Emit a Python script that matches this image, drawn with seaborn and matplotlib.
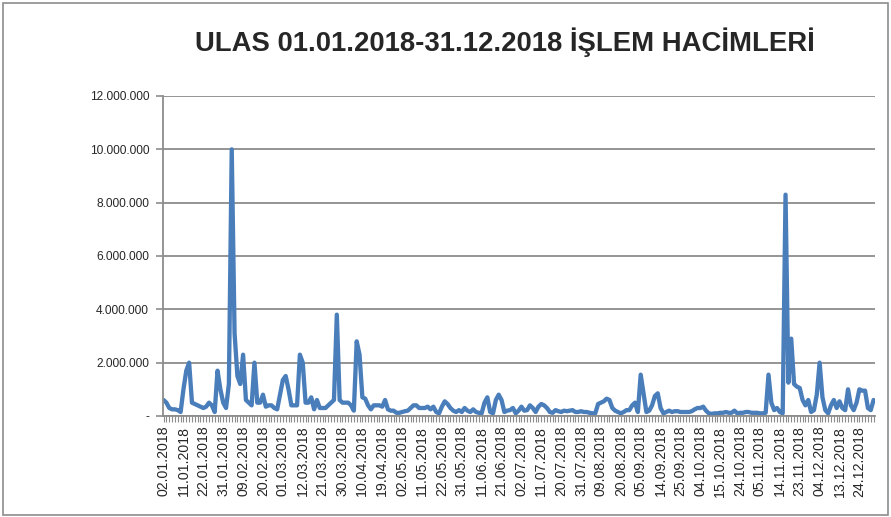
import matplotlib
matplotlib.use("Agg")
import matplotlib.pyplot as plt
import matplotlib.patches as patches
from matplotlib.ticker import FuncFormatter, MultipleLocator
import seaborn as sns
import pandas as pd
import numpy as np

# ---- data (daily trading volume, millions) ----
vol_part1 = [0.6, 0.5, 0.3, 0.25, 0.25, 0.22, 0.15, 1.0, 1.7, 2.0,
             0.5, 0.45, 0.4, 0.35, 0.3, 0.35, 0.5, 0.4, 0.15, 1.7,
             1.0, 0.5, 0.3, 1.2, 10.0, 3.1, 1.5, 1.2, 2.3, 0.6,
             0.5, 0.4, 2.0, 0.5, 0.5, 0.8, 0.35, 0.4, 0.4, 0.3,
             0.25, 0.8, 1.35, 1.5, 1.0, 0.4, 0.4, 0.4, 2.3, 2.0,
             0.5, 0.5, 0.7, 0.25, 0.6, 0.3, 0.3, 0.3, 0.4, 0.5,
             0.6, 3.8, 0.6]
vol_part2 = [0.5, 0.5, 0.5, 0.4, 0.2, 2.8, 2.3,
             0.7, 0.65, 0.4, 0.25, 0.4, 0.4, 0.4, 0.35, 0.6, 0.25,
             0.2, 0.2, 0.12, 0.12, 0.15, 0.18, 0.2, 0.3, 0.4, 0.4,
             0.3, 0.3, 0.3, 0.35, 0.25, 0.35, 0.15, 0.1, 0.35, 0.55,
             0.45, 0.3, 0.2, 0.15, 0.22, 0.15, 0.3, 0.2, 0.15, 0.25,
             0.15, 0.12, 0.1, 0.5, 0.7, 0.15, 0.1, 0.6, 0.8, 0.6,
             0.15, 0.2, 0.22, 0.3, 0.1]
vol_part3 = [0.2, 0.35, 0.2, 0.22, 0.4,
             0.3, 0.15, 0.35, 0.45, 0.4, 0.3, 0.15, 0.12, 0.22, 0.18,
             0.15, 0.2, 0.18, 0.2, 0.22, 0.15, 0.15, 0.18, 0.15, 0.15,
             0.12, 0.1, 0.1, 0.45, 0.5, 0.55, 0.65, 0.6, 0.3, 0.2,
             0.15, 0.1, 0.15, 0.22, 0.22, 0.4, 0.5, 0.15, 1.55, 0.85,
             0.15, 0.2, 0.4, 0.75, 0.85, 0.3, 0.1, 0.15, 0.2, 0.15,
             0.18, 0.18, 0.15, 0.15, 0.15, 0.15, 0.18, 0.25]
vol_part4 = [0.3, 0.3,
             0.35, 0.2, 0.1, 0.08, 0.1, 0.1, 0.12, 0.12, 0.15, 0.12,
             0.12, 0.2, 0.1, 0.12, 0.12, 0.15, 0.15, 0.12, 0.12, 0.12,
             0.1, 0.1, 0.12, 1.55, 0.5, 0.22, 0.3, 0.15, 0.1, 8.3,
             1.25, 2.9, 1.2, 1.1, 1.05, 0.6, 0.4, 0.6, 0.15, 0.22,
             0.8, 2.0, 0.7, 0.22, 0.1, 0.4, 0.6, 0.3, 0.55, 0.3,
             0.22, 1.0, 0.4, 0.22, 0.5, 1.0, 0.95, 0.95, 0.3, 0.22,
             0.6]

tick_labels = ["02.01.2018", "11.01.2018", "22.01.2018", "31.01.2018", "09.02.2018",
               "20.02.2018", "01.03.2018", "12.03.2018", "21.03.2018", "30.03.2018",
               "10.04.2018", "19.04.2018", "02.05.2018", "11.05.2018", "22.05.2018",
               "31.05.2018", "11.06.2018", "21.06.2018", "02.07.2018", "11.07.2018",
               "20.07.2018", "31.07.2018", "09.08.2018", "20.08.2018", "05.09.2018",
               "14.09.2018", "25.09.2018", "04.10.2018", "15.10.2018", "24.10.2018",
               "05.11.2018", "14.11.2018", "23.11.2018", "04.12.2018", "13.12.2018",
               "24.12.2018"]
tick_step = 7
y_ticks = [0, 2000000, 4000000, 6000000, 8000000, 10000000, 12000000]
title = "ULAS 01.01.2018-31.12.2018 İŞLEM HACİMLERİ"

volume = np.array(vol_part1 + vol_part2 + vol_part3 + vol_part4) * 1e6
df = pd.DataFrame({"idx": np.arange(len(volume)), "volume": volume})

# ---- style ----
sns.set_style("white")
plt.rcParams["font.family"] = ["Liberation Sans", "DejaVu Sans"]

W, H = 891, 517
fig = plt.figure(figsize=(W / 100, H / 100), dpi=100)
ax = fig.add_axes([163 / W, (H - 416) / H, (875 - 163) / W, (416 - 96) / H])

sns.lineplot(data=df, x="idx", y="volume", ax=ax, color="#4A7EBB", linewidth=3.1,
             solid_joinstyle="round", solid_capstyle="round")

ax.set_xlim(-0.2, len(volume) - 0.5)
ax.set_ylim(0, 12000000)
ax.set_yticks(y_ticks)
ax.yaxis.set_major_formatter(FuncFormatter(
    lambda v, p: "-" if v == 0 else f"{int(v):,}".replace(",", ".")))
ax.set_xticks(np.arange(len(tick_labels)) * tick_step)
ax.set_xticklabels(tick_labels, rotation=90)
ax.xaxis.set_minor_locator(MultipleLocator(1))

grid_col = "#8C8C8C"
ax.grid(axis="y", color=grid_col, linewidth=1.3)
ax.set_axisbelow(True)
for s in ["top", "right"]:
    ax.spines[s].set_visible(False)
for s in ["left", "bottom"]:
    ax.spines[s].set_color(grid_col)
    ax.spines[s].set_linewidth(1.3)
ax.tick_params(axis="y", which="major", length=5, color=grid_col, width=1.2,
               labelsize=8.6, pad=5, left=True)
ax.tick_params(axis="x", which="major", length=4, color=grid_col, width=0.8,
               labelsize=10.2, pad=3, bottom=True)
ax.tick_params(axis="x", which="minor", length=4, color=grid_col, width=0.8, bottom=True)
ax.set_xlabel("")
ax.set_ylabel("")

t = fig.text(505 / W, 1 - 42 / H, title, ha="center", va="center",
             fontsize=20, fontweight="bold", family=["Liberation Sans", "DejaVu Sans"])
fig.canvas.draw()
w = t.get_window_extent(fig.canvas.get_renderer()).width
t.set_fontsize(20 * 620 / w)

fig.patches.append(patches.Rectangle((3 / W, 2 / H), (885) / W, (512) / H,
                                     transform=fig.transFigure, fill=False,
                                     edgecolor="#8C8C8C", linewidth=1.2))

fig.savefig("out.png", dpi=100)
